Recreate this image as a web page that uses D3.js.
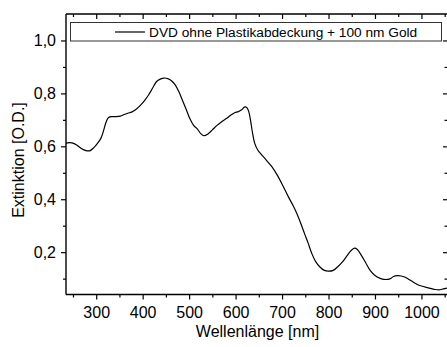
<!DOCTYPE html>
<html><head><meta charset="utf-8">
<script src="https://cdn.jsdelivr.net/npm/d3@7"></script>
<style>
html,body{margin:0;padding:0;background:#fff;}
svg{display:block;font-family:"Liberation Sans",Arial,sans-serif;}
</style></head>
<body>
<svg id="c" width="447" height="347"></svg>
<script>
const wavelength = [235,242,248,258,268,278,286,295,303,310,316,321,326,332,342,352,360,368,377,386,395,404,413,422,430,438,446,454,462,470,478,486,494,502,510,518,525,532,540,550,560,570,580,590,598,606,613,619,624,628,632,636,641,648,656,666,678,690,702,714,724,732,740,748,756,764,772,781,790,800,810,820,830,840,848,856,862,870,880,890,900,910,920,932,940,948,956,964,972,982,990,1000,1010,1020,1030,1040,1047,1055];
const extinction = [0.612,0.614,0.613,0.605,0.592,0.584,0.583,0.595,0.612,0.630,0.660,0.690,0.708,0.712,0.712,0.714,0.720,0.725,0.730,0.740,0.755,0.773,0.795,0.822,0.845,0.854,0.858,0.856,0.848,0.832,0.806,0.772,0.738,0.703,0.678,0.665,0.648,0.640,0.646,0.662,0.679,0.693,0.705,0.718,0.727,0.731,0.738,0.748,0.747,0.733,0.700,0.655,0.612,0.585,0.568,0.548,0.523,0.490,0.450,0.408,0.375,0.345,0.310,0.272,0.235,0.195,0.165,0.145,0.132,0.128,0.131,0.145,0.163,0.187,0.205,0.215,0.210,0.190,0.160,0.130,0.112,0.102,0.097,0.099,0.108,0.111,0.110,0.106,0.098,0.087,0.079,0.072,0.067,0.063,0.059,0.058,0.061,0.064];
const xMajorTicks = [300,400,500,600,700,800,900,1000];
const xMinorTicks = [250,350,450,550,650,750,850,950,1050];
const yMajorTicks = [0.2,0.4,0.6,0.8,1.0];
const yMinorTicks = [0.1,0.3,0.5,0.7,0.9];
const legendLabel = "DVD ohne Plastikabdeckung + 100 nm Gold";
const xTitle = "Wellenlänge [nm]";
const yTitle = "Extinktion [O.D.]";

const L=66, R=447, T=14, B=294.5;
const svg = d3.select("#c");
const x = d3.scaleLinear().domain([235,1055]).range([L,R]);
const y = d3.scaleLinear().domain([0.04,1.1]).range([B,T]);
const fmt = d => d3.format(".1f")(d).replace(".", ",");

function styleAxis(g){
  g.select(".domain").remove();
  g.selectAll("line").attr("stroke","#000").attr("stroke-width",1.2);
  g.selectAll("text").attr("fill","#000").attr("font-size","16px").attr("font-family","Liberation Sans, Arial, sans-serif");
}
// bottom
svg.append("g").attr("transform",`translate(0,${B})`)
  .call(d3.axisBottom(x).tickValues(xMajorTicks).tickSize(5).tickPadding(7).tickFormat(d3.format("d"))).call(styleAxis);
svg.append("g").attr("transform",`translate(0,${B})`)
  .call(d3.axisBottom(x).tickValues(xMinorTicks).tickSize(3).tickFormat("")).call(styleAxis);
// top (inward)
svg.append("g").attr("transform",`translate(0,${T})`)
  .call(d3.axisTop(x).tickValues(xMajorTicks).tickSize(-5).tickFormat("")).call(styleAxis);
svg.append("g").attr("transform",`translate(0,${T})`)
  .call(d3.axisTop(x).tickValues(xMinorTicks).tickSize(-3).tickFormat("")).call(styleAxis);
// left
svg.append("g").attr("transform",`translate(${L},0)`)
  .call(d3.axisLeft(y).tickValues(yMajorTicks).tickSize(5).tickPadding(5).tickFormat(fmt)).call(styleAxis);
svg.append("g").attr("transform",`translate(${L},0)`)
  .call(d3.axisLeft(y).tickValues(yMinorTicks).tickSize(3).tickFormat("")).call(styleAxis);
// right (inward)
svg.append("g").attr("transform",`translate(${R},0)`)
  .call(d3.axisRight(y).tickValues(yMajorTicks).tickSize(-4).tickFormat("")).call(styleAxis);
svg.append("g").attr("transform",`translate(${R},0)`)
  .call(d3.axisRight(y).tickValues(yMinorTicks).tickSize(-2.5).tickFormat("")).call(styleAxis);

// frame lines
svg.append("line").attr("x1",L).attr("x2",R).attr("y1",T).attr("y2",T).attr("stroke","#000").attr("stroke-width",1.4);
svg.append("line").attr("x1",L).attr("x2",R).attr("y1",B).attr("y2",B).attr("stroke","#000").attr("stroke-width",1.4);
svg.append("line").attr("x1",L).attr("x2",L).attr("y1",T).attr("y2",B).attr("stroke","#000").attr("stroke-width",1.4);

// data line
const data = wavelength.map((w,i)=>({w, v: extinction[i]}));
svg.append("path").datum(data)
  .attr("fill","none").attr("stroke","#000").attr("stroke-width",1.2)
  .attr("d", d3.line().x(d=>x(d.w)).y(d=>y(d.v)).curve(d3.curveCatmullRom.alpha(0.5)));

// legend
svg.append("rect").attr("x",70.5).attr("y",22.5).attr("width",371).attr("height",18.5)
  .attr("fill","#fff").attr("stroke","#333").attr("stroke-width",1);
svg.append("line").attr("x1",115).attr("x2",145).attr("y1",32).attr("y2",32).attr("stroke","#000").attr("stroke-width",1.2);
svg.append("text").attr("x",149).attr("y",37).attr("font-size","13.7px").attr("fill","#000").text(legendLabel);

// titles
svg.append("text").attr("x",(L+R)/2+1).attr("y",337).attr("text-anchor","middle").attr("font-size","16px").attr("fill","#000").text(xTitle);
svg.append("text").attr("transform",`translate(24,160) rotate(-90)`).attr("text-anchor","middle").attr("font-size","16px").attr("fill","#000").text(yTitle);
</script>
</body></html>
